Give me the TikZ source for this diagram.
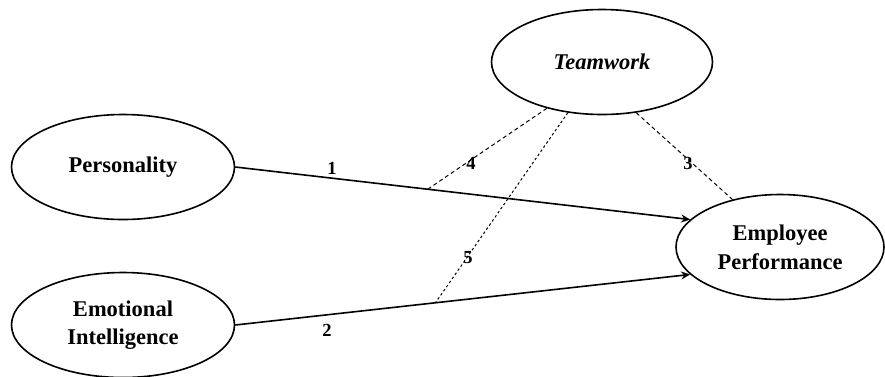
\documentclass[tikz,border=0pt]{standalone}
\usepackage{fontspec}
\setmainfont{Liberation Serif}
\usetikzlibrary{shapes.geometric,arrows.meta}
\begin{document}
\begin{tikzpicture}[x=1pt,y=-1pt,
  latent/.style={ellipse,draw,line width=1.6pt,inner sep=0pt,align=center,
    font=\fontsize{22.5}{29}\selectfont\bfseries},
  path1/.style={line width=1.6pt,-{Stealth[length=9pt,width=8pt]}},
  mod/.style={line width=1pt,dash pattern=on 4pt off 3pt},
  modfine/.style={line width=1pt,dash pattern=on 2.5pt off 2.5pt},
  num/.style={font=\fontsize{18.5}{20}\selectfont\bfseries,inner sep=0pt}]
\useasboundingbox (0,0) rectangle (885,376);
\node[latent,minimum width=223pt,minimum height=105pt] (P) at (123,167) {\raisebox{-4pt}{Personality}};
\node[latent,minimum width=223pt,minimum height=105pt] (EI) at (123,325) {\raisebox{-5pt}{\begin{tabular}{@{}c@{}}Emotional\\[-1pt]Intelligence\end{tabular}}};
\node[latent,minimum width=221pt,minimum height=105pt] (TW) at (602,62) {\itshape Teamwork};
\node[latent,minimum width=208pt,minimum height=105pt] (EP) at (780,247) {Employee\\Performance};
\draw[path1] (P.east) -- coordinate[pos=0.423] (m1) (EP.163);
\draw[path1] (EI.east) -- coordinate[pos=0.44] (m2) (EP.197);
\draw[mod] (TW.220) -- (m1);
\draw[modfine] (TW.236) -- (m2);
\draw[mod] (TW.304) -- (EP.135);
\node[num] (n1) at (332,168) {1};
\node[num] (n2) at (327,330) {2};
\node[num] (n3) at (688,163) {3};
\node[num] (n4) at (471,163) {4};
\node[num] (n5) at (468,258) {5};
\end{tikzpicture}
\end{document}
